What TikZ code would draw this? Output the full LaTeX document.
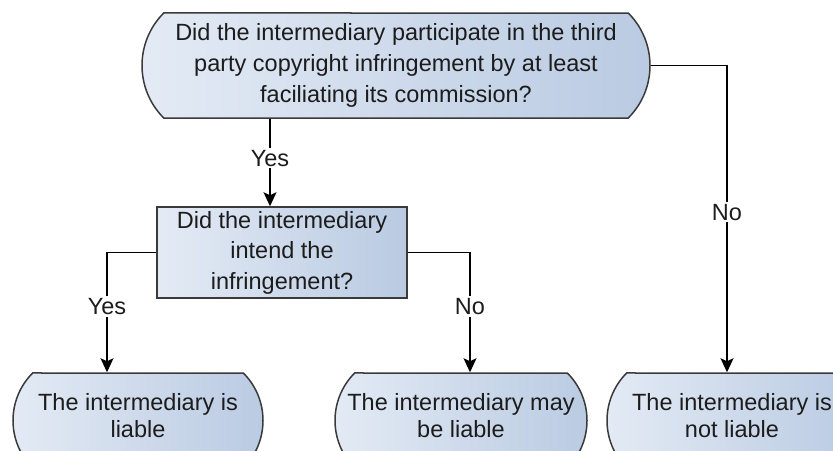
\documentclass[tikz,border=0pt]{standalone}
\usepackage{fontspec}
\setmainfont{Liberation Sans}
\usetikzlibrary{shapes.misc,arrows.meta}
\definecolor{fillL}{HTML}{E4EBF5}
\definecolor{fillR}{HTML}{B9CAE2}
\definecolor{edgec}{HTML}{3A3A3A}
\definecolor{txtc}{HTML}{1C1C1C}
\begin{document}
\begin{tikzpicture}[x=1pt,y=-1pt,
  term/.style={rounded rectangle, rounded rectangle arc length=90, draw=edgec, line width=1.5pt,
    left color=fillL, right color=fillR, align=center, text=txtc, inner sep=0pt,
    font=\fontsize{23.5}{31}\selectfont},
  endterm/.style={term, font=\fontsize{23.5}{26.5}\selectfont, text depth=10pt,
    minimum width=250pt, minimum height=95pt},
  decbox/.style={rectangle, draw=edgec, line width=1.5pt, left color=fillL, right color=fillR,
    align=center, text=txtc, inner sep=0pt, font=\fontsize{23.5}{30.5}\selectfont},
  arr/.style={line width=1.3pt, draw=black, -{Stealth[length=14pt,width=13pt,inset=3pt]}},
  lbl/.style={fill=white, inner sep=2pt, text=txtc, font=\fontsize{23.5}{28}\selectfont}]
\useasboundingbox (0,0) rectangle (833,450);
\clip (0,0) rectangle (833,450);
\node[term, minimum width=508pt, minimum height=105pt] (top) at (396,65.5)
  {Did the intermediary participate in the third\\party copyright infringement by at least\\faciliating its commission?};
\node[decbox, minimum width=250pt, minimum height=91pt] (mid) at (282,252.5)
  {Did the intermediary\\intend the\\infringement?};
\node[endterm] (n1) at (138,420.5) {The intermediary is\\liable};
\node[endterm, minimum width=252pt] (n2) at (461,420.5) {The intermediary may\\be liable};
\node[endterm] (n3) at (732,420.5) {The intermediary is\\not liable};
\coordinate (j1) at ([xshift=-12pt]mid.north);
\draw[arr] (top.south -| j1) -- node[lbl, pos=0.45] {Yes} (j1);
\draw[arr] (mid.west) -| node[lbl, pos=0.725] {Yes} ([xshift=-31pt]n1.north);
\draw[arr] (mid.east) -| node[lbl, pos=0.725] {No} ([xshift=9pt]n2.north);
\draw[arr] (top.east) -| node[lbl, pos=0.739] {No} ([xshift=-5pt]n3.north);
\end{tikzpicture}
\end{document}
